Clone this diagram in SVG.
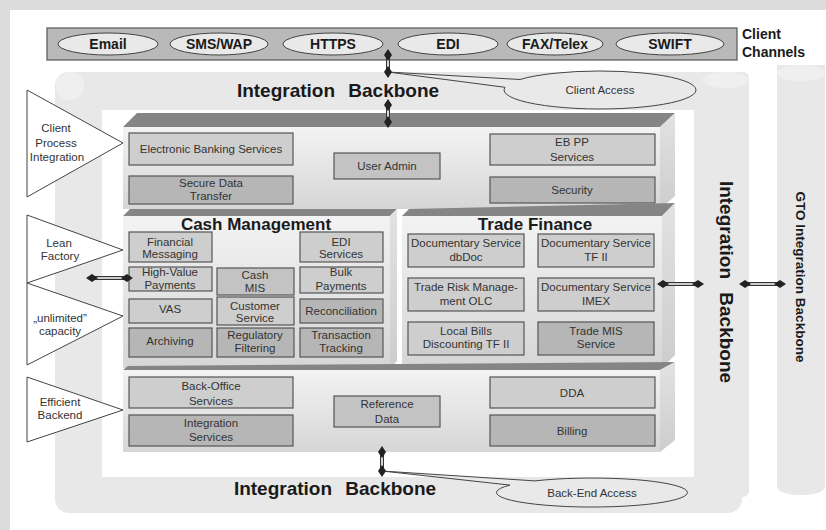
<svg xmlns="http://www.w3.org/2000/svg" width="826" height="530" viewBox="0 0 826 530">
<defs>
<linearGradient id="front" x1="0" y1="0" x2="0" y2="1">
<stop offset="0" stop-color="#f3f3f3"/>
<stop offset="1" stop-color="#d6d6d6"/>
</linearGradient>
<linearGradient id="side" x1="0" y1="0" x2="0" y2="1">
<stop offset="0" stop-color="#e2e2e2"/>
<stop offset="1" stop-color="#cdcdcd"/>
</linearGradient>
<style>
.t{font-family:"Liberation Sans",Arial,sans-serif;font-size:11.5px;fill:#333;text-anchor:middle}
.b{font-family:"Liberation Sans",Arial,sans-serif;font-weight:bold;fill:#1a1a1a;text-anchor:middle}
.lt{fill:#cecece;stroke:#555;stroke-width:1.2}
.dk{fill:#b6b6b6;stroke:#555;stroke-width:1.2}
.md{fill:#c3c3c3;stroke:#555;stroke-width:1.2}
.ch{fill:#e9e9e9;stroke:#444;stroke-width:1}
.tri{fill:#fff;stroke:#444;stroke-width:1}
.topf{fill:#858585}
.face{fill:url(#front)}
.sidef{fill:url(#side)}
.band{fill:#e8e8e8}
.dl1{stroke:#333;stroke-width:4;fill:none}
.dl2{stroke:#fff;stroke-width:1.6;fill:none}
.dm{fill:#222}
.co{fill:#e9e9e9;stroke:#444;stroke-width:1}
</style>
</defs>
<rect x="0" y="0" width="826" height="530" fill="#dcdcdc"/>
<rect x="10" y="10" width="816" height="520" fill="#fff"/>

<!-- backbone frame -->
<g id="backbone">
<rect class="band" x="55" y="72" width="687" height="441" rx="14"/>
<circle cx="70" cy="86" r="14" fill="#efefef"/>
<rect class="band" x="702" y="72" width="47" height="425" rx="6"/>
<ellipse cx="725.5" cy="80" rx="23.5" ry="8" fill="#efefef"/>
<rect x="102" y="110" width="592" height="367" fill="#fff"/>
<text class="b" x="338" y="97" font-size="19" word-spacing="8">Integration Backbone</text>
<text class="b" x="335" y="495" font-size="19" word-spacing="8">Integration Backbone</text>
<text class="b" font-size="19" word-spacing="8" transform="translate(720,282) rotate(90)">Integration Backbone</text>
</g>

<g id="gto">
<rect class="band" x="777" y="65" width="48" height="422"/>
<ellipse cx="801" cy="487" rx="24" ry="8" fill="#e8e8e8"/>
<ellipse cx="801" cy="73" rx="24" ry="8" fill="#efefef"/>
<text class="b" font-size="13.5" transform="translate(796,277) rotate(90)">GTO Integration Backbone</text>
</g>

<!-- client channels -->
<g id="channels">
<rect x="47" y="28" width="690" height="32" fill="#b9b9b9" stroke="#555" stroke-width="1.2"/>
<ellipse class="ch" cx="108" cy="44" rx="50" ry="11"/>
<ellipse class="ch" cx="219" cy="44" rx="49" ry="11"/>
<ellipse class="ch" cx="333" cy="44" rx="50" ry="11"/>
<ellipse class="ch" cx="448" cy="44" rx="50" ry="11"/>
<ellipse class="ch" cx="555" cy="44" rx="48" ry="11"/>
<ellipse class="ch" cx="670" cy="44" rx="54" ry="11"/>
<text class="b" font-size="14" x="108" y="49">Email</text>
<text class="b" font-size="14" x="219" y="49">SMS/WAP</text>
<text class="b" font-size="14" x="333" y="49">HTTPS</text>
<text class="b" font-size="14" x="448" y="49">EDI</text>
<text class="b" font-size="14" x="555" y="49">FAX/Telex</text>
<text class="b" font-size="14" x="670" y="49">SWIFT</text>
<text class="b" font-size="14" x="742" y="39" text-anchor="start" style="text-anchor:start">Client</text>
<text class="b" font-size="14" x="742" y="57" style="text-anchor:start">Channels</text>
</g>

<!-- top box -->
<g id="client-process">
<polygon class="topf" points="123,127 137,113 675,113 660,127"/>
<polygon class="sidef" points="660,127 675,113 675,196 660,209"/>
<rect class="face" x="123" y="127" width="537" height="82"/>
<rect class="lt" x="129" y="133" width="164" height="32"/>
<text class="t" x="211" y="153">Electronic Banking Services</text>
<rect class="dk" x="129" y="176" width="164" height="28"/>
<text class="t" x="211" y="187">Secure Data</text>
<text class="t" x="211" y="200">Transfer</text>
<rect class="md" x="334" y="153" width="106" height="26"/>
<text class="t" x="387" y="170">User Admin</text>
<rect class="lt" x="490" y="134" width="165" height="31"/>
<text class="t" x="572" y="146">EB PP</text>
<text class="t" x="572" y="161">Services</text>
<rect class="dk" x="490" y="177" width="165" height="26"/>
<text class="t" x="572" y="194">Security</text>
</g>

<!-- cash management -->
<g id="cash-management">
<polygon class="topf" points="123,216 130,209 397,209 390,216"/>
<polygon class="sidef" points="390,216 397,209 397,361 390,368"/>
<rect class="face" x="123" y="216" width="267" height="152"/>
<text class="b" font-size="17" x="256" y="230">Cash Management</text>
<rect class="lt" x="129" y="232" width="83" height="30"/>
<text class="t" x="170" y="246">Financial</text>
<text class="t" x="170" y="258">Messaging</text>
<rect class="lt" x="300" y="232" width="83" height="30"/>
<text class="t" x="341" y="246">EDI</text>
<text class="t" x="341" y="258">Services</text>
<rect class="lt" x="129" y="267" width="83" height="24"/>
<text class="t" x="170" y="276">High-Value</text>
<text class="t" x="170" y="289">Payments</text>
<rect class="md" x="217" y="268" width="77" height="27"/>
<text class="t" x="255" y="279">Cash</text>
<text class="t" x="255" y="292">MIS</text>
<rect class="lt" x="300" y="267" width="83" height="26"/>
<text class="t" x="341" y="276">Bulk</text>
<text class="t" x="341" y="290">Payments</text>
<rect class="lt" x="129" y="299" width="83" height="24"/>
<text class="t" x="170" y="313">VAS</text>
<rect class="lt" x="217" y="297" width="77" height="28"/>
<text class="t" x="255" y="310">Customer</text>
<text class="t" x="255" y="322">Service</text>
<rect class="dk" x="300" y="299" width="83" height="24"/>
<text class="t" x="341" y="315">Reconciliation</text>
<rect class="dk" x="129" y="328" width="83" height="29"/>
<text class="t" x="170" y="345">Archiving</text>
<rect class="dk" x="217" y="328" width="77" height="29"/>
<text class="t" x="255" y="339">Regulatory</text>
<text class="t" x="255" y="352">Filtering</text>
<rect class="dk" x="300" y="328" width="83" height="29"/>
<text class="t" x="341" y="339">Transaction</text>
<text class="t" x="341" y="352">Tracking</text>
</g>

<!-- trade finance -->
<g id="trade-finance">
<polygon class="topf" points="402,216 409,209 675,203 662,216"/>
<polygon class="sidef" points="662,216 675,203 675,355 662,368"/>
<rect class="face" x="402" y="216" width="260" height="152"/>
<text class="b" font-size="17" x="535" y="230">Trade Finance</text>
<rect class="lt" x="408" y="234" width="116" height="33"/>
<text class="t" x="466" y="247">Documentary Service</text>
<text class="t" x="466" y="261">dbDoc</text>
<rect class="lt" x="538" y="234" width="116" height="33"/>
<text class="t" x="596" y="247">Documentary Service</text>
<text class="t" x="596" y="261">TF II</text>
<rect class="lt" x="408" y="278" width="116" height="33"/>
<text class="t" x="466" y="291">Trade Risk Manage-</text>
<text class="t" x="466" y="305">ment OLC</text>
<rect class="lt" x="538" y="278" width="116" height="33"/>
<text class="t" x="596" y="291">Documentary Service</text>
<text class="t" x="596" y="305">IMEX</text>
<rect class="lt" x="408" y="322" width="116" height="33"/>
<text class="t" x="466" y="335">Local Bills</text>
<text class="t" x="466" y="348">Discounting TF II</text>
<rect class="dk" x="538" y="322" width="116" height="33"/>
<text class="t" x="596" y="335">Trade MIS</text>
<text class="t" x="596" y="348">Service</text>
</g>

<!-- bottom box -->
<g id="backend">
<polygon class="topf" points="123,370 128,366 675,362 660,370"/>
<polygon class="sidef" points="660,370 675,362 675,440 660,452"/>
<rect class="face" x="123" y="370" width="537" height="82"/>
<rect class="lt" x="129" y="377" width="164" height="31"/>
<text class="t" x="211" y="390">Back-Office</text>
<text class="t" x="211" y="405">Services</text>
<rect class="dk" x="129" y="415" width="164" height="31"/>
<text class="t" x="211" y="427">Integration</text>
<text class="t" x="211" y="441">Services</text>
<rect class="md" x="334" y="396" width="106" height="31"/>
<text class="t" x="387" y="408">Reference</text>
<text class="t" x="387" y="423">Data</text>
<rect class="lt" x="490" y="377" width="165" height="31"/>
<text class="t" x="572" y="397">DDA</text>
<rect class="dk" x="490" y="415" width="165" height="31"/>
<text class="t" x="572" y="435">Billing</text>
</g>

<!-- triangles -->
<g id="tri-client">
<polygon class="tri" points="27,90 123,143 27,197"/>
<text class="t" x="56" y="132">Client</text>
<text class="t" x="56" y="147">Process</text>
<text class="t" x="57" y="161">Integration</text>
</g>
<g id="tri-lean">
<polygon class="tri" points="27,215 123,250 27,283"/>
<text class="t" x="59" y="247">Lean</text>
<text class="t" x="60" y="260">Factory</text>
</g>
<g id="tri-capacity">
<polygon class="tri" points="27,283 123,316 27,365"/>
<text class="t" x="60" y="322">„unlimited”</text>
<text class="t" x="60" y="335">capacity</text>
</g>
<g id="tri-backend">
<polygon class="tri" points="27,377 123,410 27,442"/>
<text class="t" x="60" y="406">Efficient</text>
<text class="t" x="60" y="419">Backend</text>
</g>

<!-- callouts -->
<g id="client-access">
<path class="co" d="M520,79.5 L388,72 L505,87.3 A96,19 0 1 0 520,79.5 Z"/>
<text class="t" x="600" y="94" font-size="12">Client Access</text>
</g>
<g id="backend-access">
<path class="co" d="M535,480.9 L382,471 L510,485.1 A95.5,14.5 0 1 0 535,480.9 Z"/>
<text class="t" x="592" y="497" font-size="12">Back-End Access</text>
</g>

<!-- connectors -->
<g id="connectors">
<path class="dl1" d="M388,55 V72 M388,105 V122 M382,452 V471 M92,278 H127 M663,284 H698 M745,284 H780"/>
<path class="dl2" d="M388,55 V72 M388,105 V122 M382,452 V471 M92,278 H127 M663,284 H698 M745,284 H780"/>
<g class="dm">
<path d="M388,49 l4,6 l-4,6 l-4,-6 z"/>
<path d="M388,66 l4,6 l-4,6 l-4,-6 z"/>
<path d="M388,99 l4,6 l-4,6 l-4,-6 z"/>
<path d="M388,116 l4,6 l-4,6 l-4,-6 z"/>
<path d="M382,446 l4,6 l-4,6 l-4,-6 z"/>
<path d="M382,465 l4,6 l-4,6 l-4,-6 z"/>
<path d="M86,278 l6,-4 l6,4 l-6,4 z"/>
<path d="M121,278 l6,-4 l6,4 l-6,4 z"/>
<path d="M657,284 l6,-4 l6,4 l-6,4 z"/>
<path d="M692,284 l6,-4 l6,4 l-6,4 z"/>
<path d="M739,284 l6,-4 l6,4 l-6,4 z"/>
<path d="M774,284 l6,-4 l6,4 l-6,4 z"/>
</g>
</g>
</svg>
